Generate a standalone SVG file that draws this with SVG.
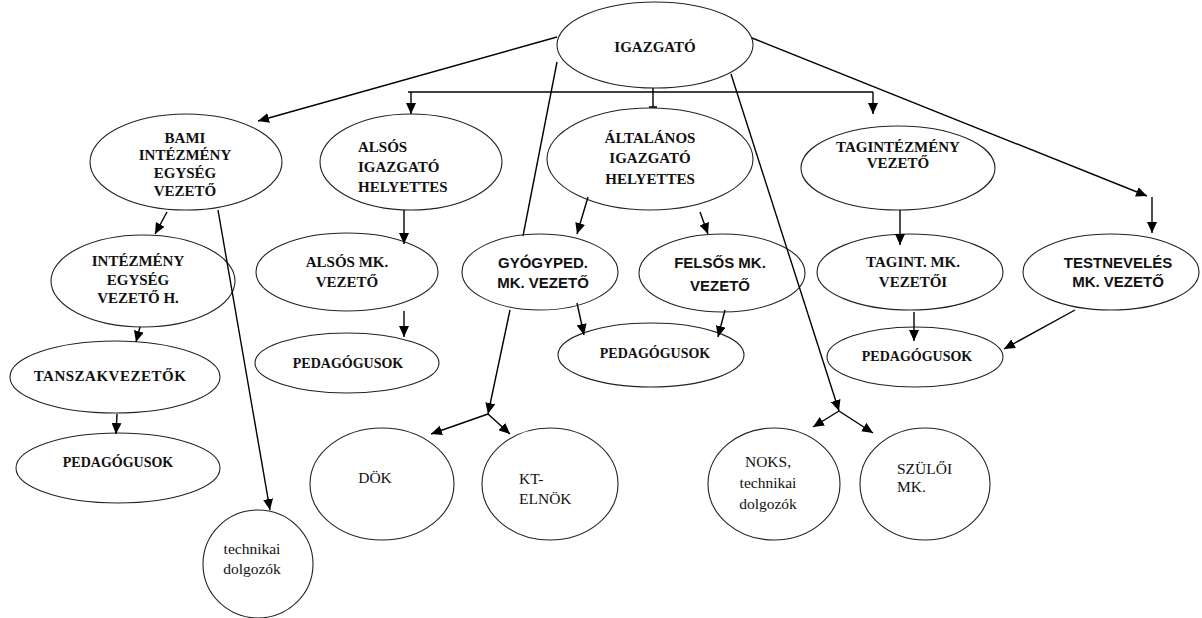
<svg xmlns="http://www.w3.org/2000/svg" width="1202" height="618" viewBox="0 0 1202 618">
<defs>
<marker id="ah" markerUnits="userSpaceOnUse" markerWidth="12" markerHeight="10" refX="11" refY="5" orient="auto">
<path d="M0,0 L11,5 L0,10 Z" fill="#000"/>
</marker>
<style>
.n{fill:#fff;stroke:#222;stroke-width:1.1}
.c{stroke:#000;stroke-width:1.4;fill:none}
.a{marker-end:url(#ah)}
.s{font-family:'Liberation Serif','DejaVu Serif',serif;font-weight:bold;font-size:15px;fill:#111;text-anchor:middle}
.p{font-family:'Liberation Serif','DejaVu Serif',serif;font-weight:bold;font-size:14px;fill:#111;text-anchor:middle}
.r{font-family:'Liberation Serif','DejaVu Serif',serif;font-size:15.5px;fill:#111;text-anchor:middle}
.f{font-family:'Liberation Sans',Arial,sans-serif;font-weight:bold;font-size:15px;fill:#111;text-anchor:middle}
.l{text-anchor:start}
</style>
</defs>
<rect width="1202" height="618" fill="#fff"/>
<g id="igazgato"><ellipse class="n" cx="655" cy="45" rx="98" ry="43"/><text class="s" font-family="Liberation Serif, serif" x="655" y="52" font-size="18">IGAZGATÓ</text></g>
<g id="bami" font-family="Liberation Serif, serif"><ellipse class="n" cx="186" cy="162" rx="96" ry="48"/>
<text class="s" font-family="Liberation Serif, serif" x="185" y="143">BAMI</text><text class="s" font-family="Liberation Serif, serif" x="185" y="160">INTÉZMÉNY</text><text class="s" font-family="Liberation Serif, serif" x="185" y="178">EGYSÉG</text><text class="s" font-family="Liberation Serif, serif" x="185" y="196">VEZETŐ</text></g>
<g id="also"><ellipse class="n" cx="411" cy="162" rx="91" ry="48"/>
<text class="s l" font-family="Liberation Serif, serif" x="358" y="152">ALSÓS</text><text class="s l" font-family="Liberation Serif, serif" x="358" y="172">IGAZGATÓ</text><text class="s l" font-family="Liberation Serif, serif" x="358" y="192">HELYETTES</text></g>
<g id="altalanos"><ellipse class="n" cx="650" cy="159" rx="103" ry="51"/>
<text class="s" font-family="Liberation Serif, serif" x="650" y="143">ÁLTALÁNOS</text><text class="s" font-family="Liberation Serif, serif" x="650" y="163">IGAZGATÓ</text><text class="s" font-family="Liberation Serif, serif" x="650" y="184">HELYETTES</text></g>
<g id="tagint"><ellipse class="n" cx="898" cy="168" rx="97" ry="42"/>
<text class="s" font-family="Liberation Serif, serif" x="898" y="152">TAGINTÉZMÉNY</text><text class="s" font-family="Liberation Serif, serif" x="898" y="168">VEZETŐ</text></g>
<g id="testnev"><ellipse class="n" cx="1111" cy="272" rx="88" ry="38"/>
<text class="f" font-family="Liberation Sans, sans-serif" x="1118" y="268">TESTNEVELÉS</text><text class="f" font-family="Liberation Sans, sans-serif" x="1118" y="287">MK. VEZETŐ</text></g>
<g id="intezmeny"><ellipse class="n" cx="143" cy="281" rx="92" ry="46"/>
<text class="s" font-family="Liberation Serif, serif" x="138" y="266">INTÉZMÉNY</text><text class="s" font-family="Liberation Serif, serif" x="138" y="285">EGYSÉG</text><text class="s" font-family="Liberation Serif, serif" x="138" y="303">VEZETŐ H.</text></g>
<g id="alsomk"><ellipse class="n" cx="347" cy="272" rx="91" ry="39"/>
<text class="s" font-family="Liberation Serif, serif" x="347" y="267">ALSÓS MK.</text><text class="s" font-family="Liberation Serif, serif" x="347" y="287">VEZETŐ</text></g>
<g id="gyogyped"><ellipse class="n" cx="540" cy="272" rx="78" ry="38"/>
<text class="f" font-family="Liberation Sans, sans-serif" x="543" y="268">GYÓGYPED.</text><text class="f" font-family="Liberation Sans, sans-serif" x="543" y="288">MK. VEZETŐ</text></g>
<g id="felsos"><ellipse class="n" cx="722" cy="273" rx="83" ry="39"/>
<text class="f" font-family="Liberation Sans, sans-serif" x="720" y="268">FELSŐS MK.</text><text class="f" font-family="Liberation Sans, sans-serif" x="720" y="291">VEZETŐ</text></g>
<g id="tagintmk"><ellipse class="n" cx="910" cy="272" rx="93" ry="38"/>
<text class="s" font-family="Liberation Serif, serif" x="913" y="267">TAGINT. MK.</text><text class="s" font-family="Liberation Serif, serif" x="913" y="287">VEZETŐI</text></g>
<g id="tanszak"><ellipse class="n" cx="115" cy="377" rx="105" ry="36"/>
<text class="s" font-family="Liberation Serif, serif" x="110" y="381" letter-spacing="0.5">TANSZAKVEZETŐK</text></g>
<g id="ped1"><ellipse class="n" cx="118" cy="468" rx="102" ry="35"/><text class="p" font-family="Liberation Serif, serif" x="118" y="467">PEDAGÓGUSOK</text></g>
<g id="ped2"><ellipse class="n" cx="347" cy="363" rx="92" ry="30"/><text class="p" font-family="Liberation Serif, serif" x="348" y="368">PEDAGÓGUSOK</text></g>
<g id="ped3"><ellipse class="n" cx="651" cy="355" rx="93" ry="32"/><text class="p" font-family="Liberation Serif, serif" x="655" y="358">PEDAGÓGUSOK</text></g>
<g id="ped4"><ellipse class="n" cx="915" cy="357" rx="88" ry="30"/><text class="p" font-family="Liberation Serif, serif" x="917" y="361">PEDAGÓGUSOK</text></g>
<g id="technikai"><ellipse class="n" cx="258" cy="564" rx="55" ry="54"/>
<text class="r" font-family="Liberation Serif, serif" x="252" y="554">technikai</text><text class="r" font-family="Liberation Serif, serif" x="252" y="574">dolgozók</text></g>
<g id="dok"><ellipse class="n" cx="382" cy="484" rx="72" ry="56"/><text class="r" font-family="Liberation Serif, serif" x="375" y="483">DÖK</text></g>
<g id="kt"><ellipse class="n" cx="550" cy="484" rx="68" ry="56"/>
<text class="r l" font-family="Liberation Serif, serif" x="519" y="484">KT-</text><text class="r l" font-family="Liberation Serif, serif" x="519" y="504">ELNÖK</text></g>
<g id="noks"><ellipse class="n" cx="774" cy="484" rx="66" ry="56"/>
<text class="r" font-family="Liberation Serif, serif" x="768" y="467">NOKS,</text><text class="r" font-family="Liberation Serif, serif" x="768" y="488">technikai</text><text class="r" font-family="Liberation Serif, serif" x="768" y="509">dolgozók</text></g>
<g id="szuloi"><ellipse class="n" cx="925" cy="484" rx="65" ry="56"/>
<text class="r l" font-family="Liberation Serif, serif" x="897" y="474">SZÜLŐI</text><text class="r l" font-family="Liberation Serif, serif" x="897" y="492">MK.</text></g>
<g id="connectors">
<path class="c a" d="M557,37 L258,121"/>
<path class="c" d="M653,88 L653,107 M649,107 L657,107"/>
<path class="c" d="M408,92 L873,92"/>
<path class="c a" d="M411,92 L411,114"/>
<path class="c a" d="M873,92 L873,114"/>
<path class="c" d="M557,62 L523,236"/>
<path class="c a" d="M731,74 L839,411"/>
<path class="c a" d="M839,411 L813,427"/>
<path class="c a" d="M839,411 L873,433"/>
<path class="c a" d="M752,38 L1147,196"/>
<path class="c a" d="M1152,197 L1152,233"/>
<path class="c a" d="M167,212 L155,234"/>
<path class="c a" d="M218,210 L270,510"/>
<path class="c a" d="M140,327 L136,342"/>
<path class="c a" d="M117,414 L116,434"/>
<path class="c a" d="M404,210 L404,244"/>
<path class="c a" d="M404,311 L404,337"/>
<path class="c a" d="M588,197 L577,234"/>
<path class="c a" d="M700,212 L708,234"/>
<path class="c a" d="M577,303 L584,335"/>
<path class="c a" d="M725,310 L718,337"/>
<path class="c a" d="M510,310 L488,414"/>
<path class="c a" d="M488,414 L431,434"/>
<path class="c a" d="M488,414 L510,434"/>
<path class="c a" d="M900,210 L900,245"/>
<path class="c a" d="M914,312 L914,341"/>
<path class="c a" d="M1075,310 L1004,349"/>
</g>
</svg>
